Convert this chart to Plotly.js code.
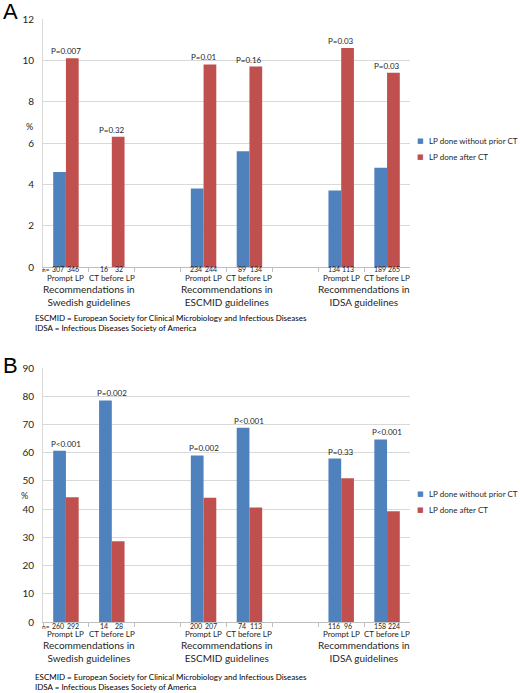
<!DOCTYPE html>
<html>
<head>
<meta charset="utf-8">
<script src="https://cdn.plot.ly/plotly-3.0.1.min.js"></script>
<style>
  html, body { margin: 0; padding: 0; background: #fff; }
  #chart { width: 520px; height: 693px; }
</style>
</head>
<body>
<div id="chart"></div>
<script>
// axis slots, with two empty slots between the guideline groups
var axisOrder = ['swe-prompt', 'swe-ct', 'gap-1', 'esc-prompt', 'esc-ct', 'gap-2', 'idsa-prompt', 'idsa-ct'];
var barKeys = ['swe-prompt', 'swe-ct', 'esc-prompt', 'esc-ct', 'idsa-prompt', 'idsa-ct'];
var subLabels = ['Prompt LP', 'CT before LP', 'Prompt LP', 'CT before LP', 'Prompt LP', 'CT before LP'];
var groupLabels = ['Recommendations in<br>Swedish guidelines', 'Recommendations in<br>ESCMID guidelines', 'Recommendations in<br>IDSA guidelines'];
var groupFirstKeys = ['swe-prompt', 'esc-prompt', 'idsa-prompt'];
var seriesNames = ['LP done without prior CT', 'LP done after CT'];

// panel A
var aWithoutCT = [4.6, 0, 3.8, 5.6, 3.7, 4.8];
var aAfterCT = [10.1, 6.3, 9.8, 9.7, 10.6, 9.4];
var aNWithout = [307, 16, 234, 89, 134, 189];
var aNAfter = [346, 32, 244, 134, 113, 265];
var aPValues = ['P=0.007', 'P=0.32', 'P=0.01', 'P=0.16', 'P=0.03', 'P=0.03'];

// panel B
var bWithoutCT = [60.7, 78.5, 59.0, 68.8, 57.9, 64.7];
var bAfterCT = [44.2, 28.6, 44.0, 40.6, 50.9, 39.2];
var bNWithout = [260, 14, 200, 74, 116, 158];
var bNAfter = [292, 28, 207, 113, 96, 224];
var bPValues = ['P<0.001', 'P=0.002', 'P=0.002', 'P<0.001', 'P=0.33', 'P<0.001'];

var footnotes = 'ESCMID = European Society for Clinical Microbiology and Infectious Diseases<br>IDSA = Infectious Diseases Society of America';

var BLUE = '#4f81bd';
var RED = '#c0504d';
var FONT = 'Lato, "Open Sans", sans-serif';
var TXT = '#1e1e1e';
var W = 520, H = 693;

// pixel helpers for paper positions
function px(x) { return x / W; }
function py(y) { return 1 - y / H; }

function onAxis(values) {
  return axisOrder.map(function (k) {
    var i = barKeys.indexOf(k);
    return i < 0 ? null : values[i];
  });
}

function bars(values, name, color, xa, ya) {
  return {
    type: 'bar', name: name, x: axisOrder, y: onAxis(values),
    xaxis: xa, yaxis: ya, showlegend: false,
    marker: {color: color}, hoverinfo: 'skip'
  };
}

var data = [
  bars(aWithoutCT, seriesNames[0], BLUE, 'x', 'y'),
  bars(aAfterCT, seriesNames[1], RED, 'x', 'y'),
  bars(bWithoutCT, seriesNames[0], BLUE, 'x2', 'y2'),
  bars(bAfterCT, seriesNames[1], RED, 'x2', 'y2')
];

var annotations = [];

function note(o) {
  o.showarrow = false;
  o.borderpad = 0;
  annotations.push(o);
}

function panelNotes(ax, with_, after, nWith, nAfter, pvals, nShift, subShift, groupShift) {
  var xr = ax === 1 ? 'x' : 'x2';
  var yr = ax === 1 ? 'y' : 'y2';
  barKeys.forEach(function (k, i) {
    var xi = axisOrder.indexOf(k);
    note({xref: xr, yref: yr, x: xi, y: Math.max(with_[i], after[i]),
      yanchor: 'bottom', yshift: 1,
      text: pvals[i], font: {family: FONT, size: 8, color: TXT}});
    note({xref: xr, yref: yr + ' domain', x: xi, y: 0, xshift: -7.5,
      yanchor: 'middle', yshift: nShift,
      text: String(nWith[i]), font: {family: FONT, size: 7, color: TXT}});
    note({xref: xr, yref: yr + ' domain', x: xi, y: 0, xshift: 7,
      yanchor: 'middle', yshift: nShift,
      text: String(nAfter[i]), font: {family: FONT, size: 7, color: TXT}});
    note({xref: xr, yref: yr + ' domain', x: xi, y: 0,
      yanchor: 'middle', yshift: subShift,
      text: subLabels[i], font: {family: FONT, size: 8, color: TXT}});
  });
  note({xref: xr + ' domain', yref: yr + ' domain', x: 0, y: 0, xshift: -2,
    xanchor: 'left', yanchor: 'middle', yshift: nShift,
    text: 'n=', font: {family: FONT, size: 6.5, color: TXT}});
  groupFirstKeys.forEach(function (k, g) {
    note({xref: xr, yref: yr + ' domain', x: axisOrder.indexOf(k) + 0.5, y: 0,
      yanchor: 'middle', yshift: groupShift, align: 'center',
      text: groupLabels[g], font: {family: FONT, size: 10, color: TXT}});
  });
}

panelNotes(1, aWithoutCT, aAfterCT, aNWithout, aNAfter, aPValues, -2.5, -11.5, -29);
panelNotes(2, bWithoutCT, bAfterCT, bNWithout, bNAfter, bPValues, -4, -12, -29);

// panel letters, % labels, footnotes and legend keys
[['A', 12, 25, 127, 312, 141], ['B', 365, 20, 495, 671, 494]].forEach(function (p) {
  note({xref: 'paper', yref: 'paper', x: px(2), y: py(p[1]), xanchor: 'left', yanchor: 'middle',
    text: p[0], font: {family: 'Liberation Sans, Arial', size: 22, color: '#000'}});
  note({xref: 'paper', yref: 'paper', x: px(p[2]), y: py(p[3]), yanchor: 'middle',
    text: '%', font: {family: FONT, size: 9, color: TXT}});
  note({xref: 'paper', yref: 'paper', x: px(34), y: py(p[4]),
    xanchor: 'left', yanchor: 'top', align: 'left',
    text: footnotes, font: {family: FONT, size: 8, color: '#000'}});
  seriesNames.forEach(function (name, s) {
    var yc = p[5] + s * 15.5;
    note({xref: 'paper', yref: 'paper', x: px(425), y: py(yc), yanchor: 'middle',
      text: '■', font: {family: 'DejaVu Sans', size: 7, color: s === 0 ? BLUE : RED}});
    note({xref: 'paper', yref: 'paper', x: px(428), y: py(yc), xanchor: 'left', yanchor: 'middle',
      text: name, font: {family: FONT, size: 8, color: TXT}});
  });
});

function xAxis(anchor) {
  return {
    domain: [px(43), px(410)], anchor: anchor,
    type: 'category', categoryorder: 'array', categoryarray: axisOrder,
    range: [-0.5, axisOrder.length - 0.5],
    showticklabels: false, showgrid: false, zeroline: false,
    showline: true, linecolor: '#bfbfbf', linewidth: 1,
    ticks: 'outside', tickson: 'boundaries', ticklen: 4, tickcolor: '#bfbfbf'
  };
}

function yAxis(top, bottom, anchor, max, step) {
  return {
    domain: [py(bottom), py(top)], anchor: anchor,
    range: [0, max], dtick: step, tick0: 0,
    showgrid: true, gridcolor: '#d9d9d9', zeroline: false,
    showline: true, linecolor: '#d9d9d9',
    ticks: 'outside', ticklen: 6, tickcolor: 'rgba(0,0,0,0)',
    tickfont: {family: FONT, size: 10, color: TXT}
  };
}

var layout = {
  width: W, height: H,
  margin: {l: 0, r: 0, t: 0, b: 0},
  paper_bgcolor: '#fff', plot_bgcolor: '#fff',
  barmode: 'group', bargap: 0.445, bargroupgap: 0,
  showlegend: false,
  font: {family: FONT, color: TXT},
  xaxis: xAxis('y'),
  yaxis: yAxis(19, 267, 'x', 12, 2),
  xaxis2: xAxis('y2'),
  yaxis2: yAxis(368, 622, 'x2', 90, 10),
  annotations: annotations
};

Plotly.newPlot('chart', data, layout, {staticPlot: true, displayModeBar: false});
</script>
</body>
</html>
